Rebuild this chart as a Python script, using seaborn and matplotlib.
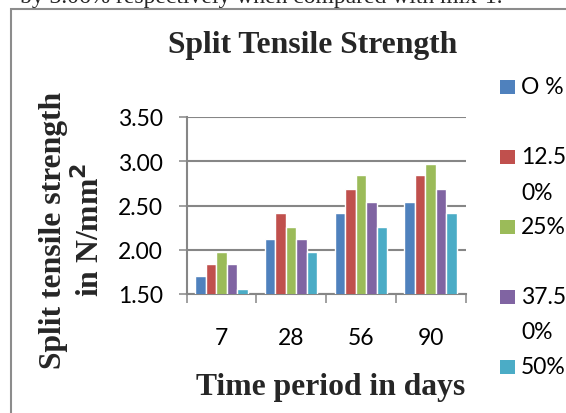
import numpy as np
import pandas as pd
import matplotlib
matplotlib.use("Agg")
import matplotlib.pyplot as plt
from matplotlib.patches import Rectangle
from matplotlib.ticker import FixedLocator
import seaborn as sns

# ---- data ----
days = ["7", "28", "56", "90"]
mix_labels = ["O %", "12.5\n0%", "25%", "37.5\n0%", "50%"]
mix_0 = [1.70, 2.12, 2.41, 2.54]
mix_12_5 = [1.84, 2.41, 2.69, 2.84]
mix_25 = [1.98, 2.26, 2.84, 2.97]
mix_37_5 = [1.84, 2.12, 2.54, 2.69]
mix_50 = [1.56, 1.98, 2.26, 2.41]
y_ticks = [1.50, 2.00, 2.50, 3.00, 3.50]
colors = ["#4F81BD", "#C0504D", "#9BBB59", "#8064A2", "#4BACC6"]

series = [mix_0, mix_12_5, mix_25, mix_37_5, mix_50]
rows = []
for lab, vals in zip(mix_labels, series):
    for d, v in zip(days, vals):
        rows.append({"day": d, "mix": lab, "value": v})
df = pd.DataFrame(rows)

sns.set_theme(style="white")
plt.rcParams["font.family"] = ["Lato", "DejaVu Sans"]

W, H = 566, 414
fig = plt.figure(figsize=(W / 100, H / 100), dpi=100)

def fx(px):
    return px / W

def fy(py):
    return 1 - py / H

gray = "#868686"
ax = fig.add_axes([fx(186.5), fy(295), fx(465.5) - fx(186.5), fy(118) - fy(295)])
sns.barplot(data=df, x="day", y="value", hue="mix", hue_order=mix_labels,
            order=days, palette=colors, width=0.75, saturation=1,
            legend=False, ax=ax, zorder=3)

ax.set_ylim(1.5, 3.5)
ax.set_xlim(-0.5, len(days) - 0.5)
ax.set_yticks(y_ticks)
ax.set_yticklabels([f"{t:.2f}" for t in y_ticks], fontsize=16.5, color="#000000")
ax.yaxis.grid(True, color=gray, linewidth=1.5, zorder=0)
ax.set_axisbelow(True)
ax.tick_params(axis="y", length=6, width=1.1, color=gray, pad=11, left=True)

# category labels at centers (no tick), tick marks at boundaries
ax.set_xticks(range(len(days)))
ax.set_xticklabels(days, fontsize=16.5, color="#000000")
ax.tick_params(axis="x", which="major", length=0, pad=24)
ax.xaxis.set_minor_locator(FixedLocator(np.arange(-0.5, len(days), 1.0)))
ax.tick_params(axis="x", which="minor", length=6.5, width=1.1, color=gray, bottom=True)

ax.set_xlabel("")
ax.set_ylabel("")
for s in ["top", "right"]:
    ax.spines[s].set_visible(False)
for s in ["left", "bottom"]:
    ax.spines[s].set_color(gray)
    ax.spines[s].set_linewidth(1.5)

serif = ["Liberation Serif", "DejaVu Serif"]
fig.text(fx(313), fy(45), "Split Tensile Strength", ha="center", va="center",
         fontsize=22.8, fontweight="bold", family=serif)
fig.text(fx(331), fy(388), "Time period in days", ha="center", va="center",
         fontsize=22.8, fontweight="bold", family=serif)
fig.text(fx(54), fy(230), "Split tensile strength", ha="center", va="center",
         rotation=90, fontsize=22.8, fontweight="bold", family=serif)
fig.text(fx(90), fy(230), "in N/mm$^\\mathbf{2}$", ha="center", va="center",
         rotation=90, fontsize=22.8, fontweight="bold", family=serif)

# partial document text above the chart
fig.text(fx(502), fy(3), "by 3.06% respectively when compared with mix-1.",
         ha="right", va="baseline", fontsize=17, family=serif)

# chart frame
fig.patches.append(Rectangle((fx(11), fy(430)), fx(600), fy(10) - fy(430),
                             transform=fig.transFigure, fill=False,
                             edgecolor="#8c8c8c", linewidth=1.5))

# legend (manual, first line aligned with marker)
row_y = [88, 158, 228, 298, 368]
for lab, col, yy in zip(mix_labels, colors, row_y):
    fig.patches.append(Rectangle((fx(500), fy(yy + 7)), fx(15), fy(yy - 7) - fy(yy + 7),
                                 transform=fig.transFigure, facecolor=col,
                                 edgecolor="none"))
    lines = lab.split("\n")
    for k, ln in enumerate(lines):
        fig.text(fx(521), fy(yy + 35 * k), ln, ha="left", va="center",
                 fontsize=16.5, color="#000000")

fig.savefig("out.png", dpi=100)
